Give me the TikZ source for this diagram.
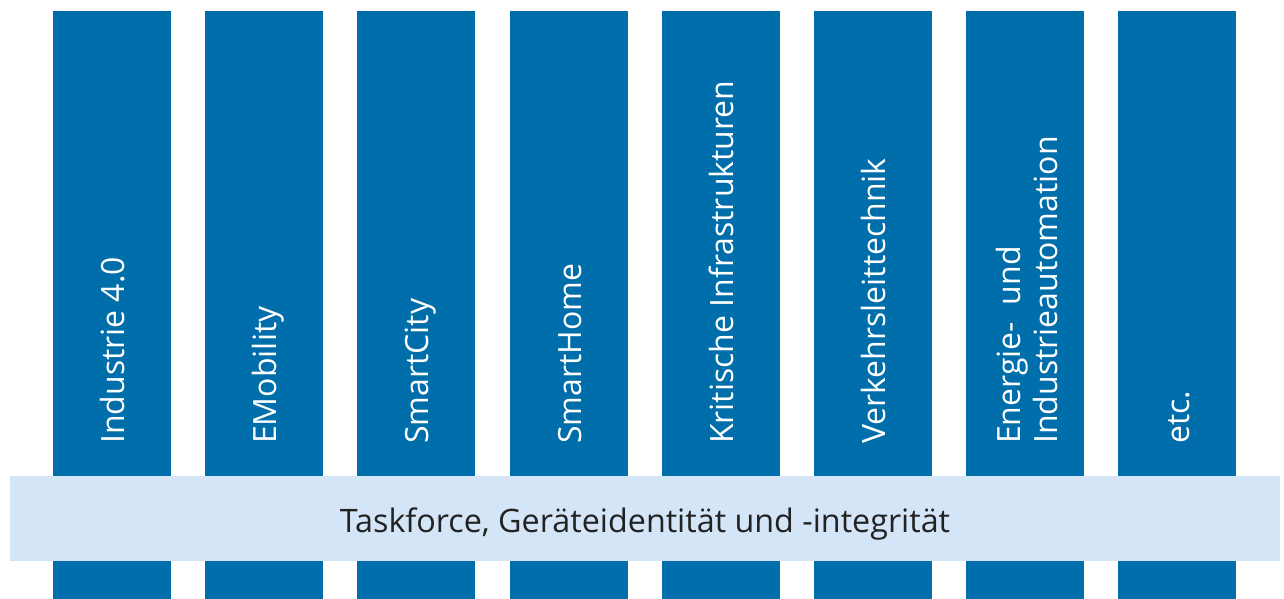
\documentclass[tikz,border=0pt]{standalone}
\usepackage{fontspec}
\setmainfont{Open Sans}
\definecolor{colblue}{HTML}{006EAA}
\definecolor{bandblue}{HTML}{D4E5F7}
\definecolor{bandtext}{HTML}{222222}
\begin{document}
\begin{tikzpicture}[x=1pt,y=-1pt,
  pillar/.style={fill=colblue,draw=none},
  pillartext/.style={rotate=90,anchor=base west,inner sep=0pt,text=white,font=\fontsize{32}{37}\selectfont},
  bandbox/.style={fill=bandblue,draw=none,minimum width=1270pt,minimum height=85pt,inner sep=0pt},
  bandlabel/.style={text=bandtext,font=\fontsize{32.3}{36}\selectfont,anchor=base,inner sep=0pt}]
\useasboundingbox (0,0) rectangle (1284,599);
\foreach \i/\x in {1/53,2/205,3/357,4/510,5/662,6/814,7/966,8/1118}{
  \fill[pillar] (\x,11) rectangle (\x+118,599);
}
\node[pillartext] (t1) at (124,444) {Industrie 4.0};
\node[pillartext] (t2) at (276,444) {EMobility};
\node[pillartext] (t3) at (428,444) {SmartCity};
\node[pillartext] (t4) at (581,444) {SmartHome};
\node[pillartext] (t5) at (733,444) {Kritische Infrastrukturen};
\node[pillartext] (t6) at (885,444) {Verkehrsleittechnik};
\node[pillartext,anchor=west,align=left] (t7) at (1027,444) {Energie-~~und\\Industrieautomation};
\node[pillartext] (t8) at (1189,444) {etc.};
\node[bandbox] (band) at (645,518.5) {};
\node[bandlabel] (bl) at (645,532) {Taskforce, Geräteidentität und -integrität};
\end{tikzpicture}
\end{document}
